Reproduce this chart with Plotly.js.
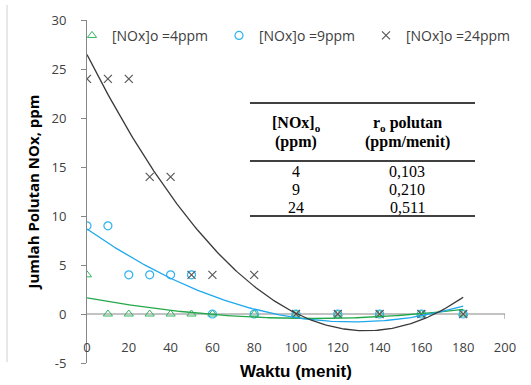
<!DOCTYPE html>
<html>
<head>
<meta charset="utf-8">
<script src="https://cdn.plot.ly/plotly-3.0.1.min.js"></script>
<style>
  html, body { margin: 0; padding: 0; background: #ffffff; }
  #chart { width: 531px; height: 385px; }
</style>
</head>
<body>
<div id="chart"></div>
<script>
// Measured NOx remaining over time for three initial concentrations
const waktu = [0, 10, 20, 30, 40, 50, 60, 80, 100, 120, 140, 160, 180];
const nox4  = [4, 0, 0, 0, 0, 0, 0, 0, 0, 0, 0, 0, 0];
const nox9  = [9, 9, 4, 4, 4, 4, 0, 0, 0, 0, 0, 0, 0];
const nox24 = [24, 24, 24, 14, 14, 4, 4, 4, 0, 0, 0, 0, 0];

const seriesNames = ['[NOx]o =4ppm', '[NOx]o =9ppm', '[NOx]o =24ppm'];
const xTicks = [0, 20, 40, 60, 80, 100, 120, 140, 160, 180, 200];
const yTicks = [-5, 0, 5, 10, 15, 20, 25, 30];

// Inset table: initial concentration and initial pollutant rate
const tabelKonsentrasi = ['4', '9', '24'];
const tabelLaju = ['0,103', '0,210', '0,511'];
const tabelHeader1 = ['[NOx]<sub>o</sub>', '(ppm)'];
const tabelHeader2 = ['r<sub>o</sub> polutan', '(ppm/menit)'];

// Second-order polynomial least-squares trendline (as a spreadsheet trendline does)
function polyFit2(xs, ys) {
  let s0 = 0, s1 = 0, s2 = 0, s3 = 0, s4 = 0, t0 = 0, t1 = 0, t2 = 0;
  for (let i = 0; i < xs.length; i++) {
    const x = xs[i], y = ys[i];
    s0 += 1; s1 += x; s2 += x * x; s3 += x * x * x; s4 += x * x * x * x;
    t0 += y; t1 += x * y; t2 += x * x * y;
  }
  const M = [[s0, s1, s2, t0], [s1, s2, s3, t1], [s2, s3, s4, t2]];
  for (let c = 0; c < 3; c++) {
    for (let r = c + 1; r < 3; r++) {
      const f = M[r][c] / M[c][c];
      for (let k = c; k < 4; k++) M[r][k] -= f * M[c][k];
    }
  }
  const coef = [0, 0, 0];
  for (let r = 2; r >= 0; r--) {
    let v = M[r][3];
    for (let k = r + 1; k < 3; k++) v -= M[r][k] * coef[k];
    coef[r] = v / M[r][r];
  }
  return coef;
}
function trendline(xs, ys) {
  const c = polyFit2(xs, ys);
  const lo = Math.min(...xs), hi = Math.max(...xs);
  const tx = [], ty = [];
  for (let x = lo; x <= hi + 1e-9; x += 1) {
    tx.push(x);
    ty.push(c[0] + c[1] * x + c[2] * x * x);
  }
  return { x: tx, y: ty };
}

const GREEN = '#2FB55E', GREEN_LINE = '#22A84A';
const BLUE = '#2DB3EE', BLUE_LINE = '#1DA8EE';
const GREY = '#595959', GREY_LINE = '#3A3A3A';

const t4 = trendline(waktu, nox4);
const t9 = trendline(waktu, nox9);
const t24 = trendline(waktu, nox24);

const data = [
  { x: waktu, y: nox4, name: seriesNames[0], type: 'scatter', mode: 'markers',
    marker: { symbol: 'triangle-up-open', size: 8, color: GREEN, line: { width: 1, color: GREEN } } },
  { x: waktu, y: nox9, name: seriesNames[1], type: 'scatter', mode: 'markers',
    marker: { symbol: 'circle-open', size: 8, color: BLUE, line: { width: 1.2, color: BLUE } } },
  { x: waktu, y: nox24, name: seriesNames[2], type: 'scatter', mode: 'markers',
    marker: { symbol: 'x-thin-open', size: 8, color: GREY, line: { width: 1.2, color: GREY } } },
  { x: t4.x, y: t4.y, type: 'scatter', mode: 'lines', showlegend: false, hoverinfo: 'skip',
    line: { color: GREEN_LINE, width: 1.3 } },
  { x: t9.x, y: t9.y, type: 'scatter', mode: 'lines', showlegend: false, hoverinfo: 'skip',
    line: { color: BLUE_LINE, width: 1.3 } },
  { x: t24.x, y: t24.y, type: 'scatter', mode: 'lines', showlegend: false, hoverinfo: 'skip',
    line: { color: GREY_LINE, width: 1.3 } }
];

// Plot area in pixels: x 87..505, y 20..363
const PL = 87, PR = 505, PT = 20, PB = 363;
const px = v => (v - PL) / (PR - PL);
const py = v => (PB - v) / (PB - PT);

const serif = 'Liberation Serif, Times New Roman, serif';
const tableFont = { family: serif, size: 16, color: '#000' };
const annotations = [];
const colX = [296, 407];
const headerY = [124, 142];
[tabelHeader1, tabelHeader2].forEach((lines, c) => {
  lines.forEach((t, k) => {
    annotations.push({ xref: 'paper', yref: 'paper', x: px(colX[c]), y: py(headerY[k]), text: '<b>' + t + '</b>',
      showarrow: false, xanchor: 'center', yanchor: 'middle', height: 18, font: tableFont });
  });
});
const rowY = [171, 189, 207];
tabelKonsentrasi.forEach((v, i) => {
  annotations.push({ xref: 'paper', yref: 'paper', x: px(colX[0]), y: py(rowY[i]), text: v,
    showarrow: false, xanchor: 'center', yanchor: 'middle', height: 18, font: tableFont });
  annotations.push({ xref: 'paper', yref: 'paper', x: px(colX[1]), y: py(rowY[i]), text: tabelLaju[i],
    showarrow: false, xanchor: 'center', yanchor: 'middle', height: 18, font: tableFont });
});

const tableLine = yy => ({ type: 'line', xref: 'paper', yref: 'paper',
  x0: px(250), x1: px(475), y0: py(yy), y1: py(yy), line: { color: '#000', width: 1.5 } });

const shapes = [
  // horizontal axis line drawn through y = 0
  { type: 'line', xref: 'x', yref: 'y', x0: 0, x1: 200, y0: 0, y1: 0, layer: 'below',
    line: { color: '#868686', width: 1 } },
  { type: 'line', xref: 'x', yref: 'y', xsizemode: 'scaled', ysizemode: 'pixel', yanchor: 0,
    x0: 200, x1: 200, y0: 0, y1: -5, line: { color: '#868686', width: 1 } },
  // outer frame edge on the left
  { type: 'line', xref: 'paper', yref: 'paper', x0: px(7), x1: px(7), y0: py(5), y1: py(362),
    line: { color: '#D0D0D0', width: 1 } },
  tableLine(103), tableLine(161), tableLine(216)
];

const tickFont = { family: 'Open Sans, sans-serif', size: 13, color: '#404040' };

const layout = {
  width: 531, height: 385,
  margin: { l: PL, r: 531 - PR, t: PT, b: 385 - PB, pad: 0 },
  paper_bgcolor: '#ffffff', plot_bgcolor: '#ffffff',
  showlegend: true,
  legend: {
    orientation: 'h', x: px(72), y: 1.0005, xanchor: 'left', yanchor: 'top',
    font: { family: 'Open Sans, sans-serif', size: 14, color: '#404040' },
    bgcolor: 'rgba(0,0,0,0)', itemwidth: 30, entrywidth: 102, entrywidthmode: 'pixels',
    tracegroupgap: 0
  },
  xaxis: {
    range: [0, 200], tickvals: xTicks, ticktext: xTicks.map(String),
    showgrid: false, zeroline: false, showline: false, ticks: '',
    anchor: 'free', position: py(337.5), tickfont: tickFont,
    title: { text: '<b>Waktu (menit)</b>', font: { family: 'Liberation Sans, Arial, sans-serif', size: 17, color: '#000' }, standoff: 10 }
  },
  yaxis: {
    range: [-5, 30], tickvals: yTicks, ticktext: yTicks.map(String),
    showgrid: false, zeroline: false, showline: true, linecolor: '#868686', linewidth: 1,
    ticks: 'outside', ticklen: 5, tickcolor: '#868686', tickwidth: 1,
    ticklabelstandoff: 12, tickfont: tickFont,
    title: { text: '<b>Jumlah Polutan NOx, ppm</b>', font: { family: 'Open Sans, sans-serif', size: 15, color: '#000' }, standoff: 8 }
  },
  shapes: shapes,
  annotations: annotations
};

Plotly.newPlot('chart', data, layout, { staticPlot: true, displayModeBar: false });
</script>
</body>
</html>
